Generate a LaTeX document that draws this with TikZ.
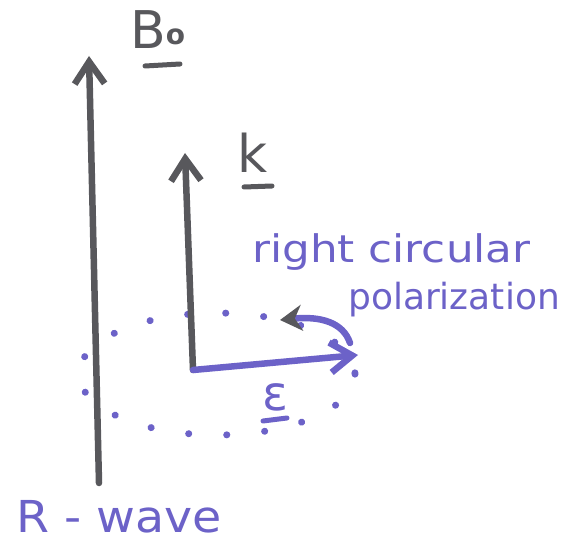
\documentclass[tikz,border=0pt]{standalone}
\usepackage{fontspec}
\setmainfont{DejaVu Sans}
\usetikzlibrary{arrows.meta}
\definecolor{pen}{RGB}{88,88,92}
\definecolor{ink}{RGB}{108,98,200}
\begin{document}
\begin{tikzpicture}[x=1pt,y=-1pt,
  vec/.style={line width=6.5pt,line cap=round,-{Straight Barb[length=22pt,width=30pt]}},
  lbl/.style={inner sep=0pt,anchor=base west},
  dotring/.style={ink,line width=7pt,line cap=round,dash pattern=on 0.1pt off 38pt}]
\useasboundingbox (0,0) rectangle (567,548);
% coordinates
\coordinate (b0s) at (99,483);
\coordinate (b0e) at (89,56);
\coordinate (o) at (193,370);
\coordinate (ke) at (185,153);
\coordinate (ee) at (358,355);
\coordinate (cs) at (350,343);
\coordinate (ce) at (280,320);
% dotted ellipse
\draw[dotring] (217,374) ellipse [x radius=138, y radius=61];
% vectors
\draw[vec,pen] (b0s) -- (b0e);
\draw[vec,pen] (o) -- (ke);
\draw[vec,ink] (o) -- (ee);
\draw[ink,line width=6.5pt,line cap=round,-{Stealth[length=22pt,width=26pt,color=pen]}]
  (cs) .. controls (343,322) and (320,316) .. (ce);
% labels
\node[lbl,pen,font=\fontsize{52}{56}\selectfont] (B) at (130,49) {B\raisebox{4pt}{\fontsize{28}{30}\selectfont\bfseries o}};
\draw[pen,line width=5pt,line cap=round] (145,66) -- (180,64);
\node[lbl,pen,font=\fontsize{52}{56}\selectfont] (k) at (237,173) {k};
\draw[pen,line width=5pt,line cap=round] (244,187) -- (272,186);
\node[lbl,ink,font=\fontsize{48}{50}\selectfont] (eps) at (262,410) {ε};
\draw[ink,line width=5pt,line cap=round] (263,421) -- (287,418);
\node[lbl,ink,font=\fontsize{38}{40}\selectfont] (rc) at (252,262) {\scalebox{1.15}[1]{right circular}};
\node[lbl,ink,font=\fontsize{36}{40}\selectfont] (pol) at (348,309) {polarization};
\node[lbl,ink,font=\fontsize{44}{48}\selectfont] (rw) at (16,532) {\scalebox{1.08}[1]{R - wave}};
\end{tikzpicture}
\end{document}
